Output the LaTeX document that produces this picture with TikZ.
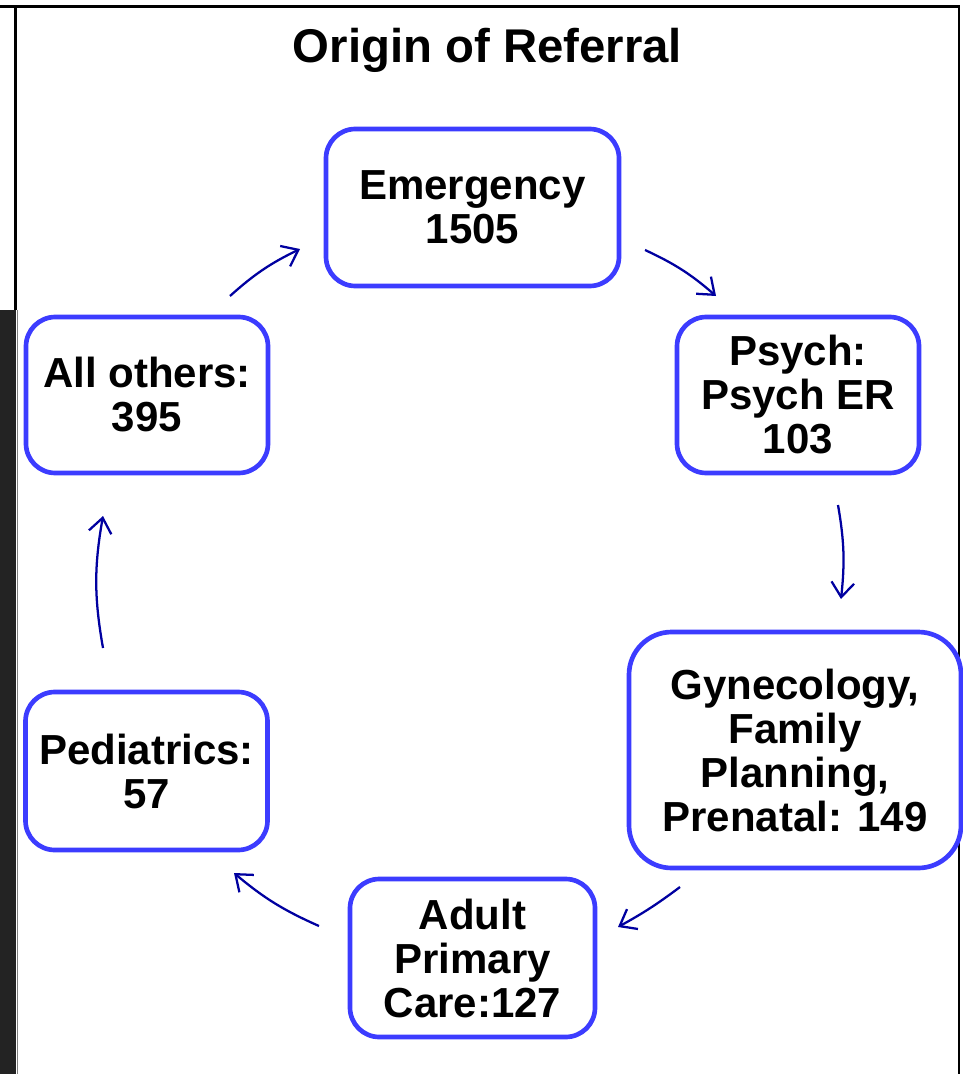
\documentclass[tikz,border=0pt]{standalone}
\usepackage{fontspec}
\setmainfont{Liberation Sans}
\usetikzlibrary{arrows.meta}
\definecolor{boxblue}{RGB}{60,60,255}
\definecolor{arrblue}{RGB}{0,0,160}
\definecolor{stripgray}{RGB}{35,35,35}
\begin{document}
\begin{tikzpicture}[x=0.75pt,y=-0.75pt,
  box/.style={draw=boxblue, line width=3.5pt, fill=white, rounded corners=22pt,
    align=center, inner sep=0pt, font=\bfseries\fontsize{31.5}{33}\selectfont},
  arr/.style={draw=arrblue, line width=1.7pt, -{Straight Barb[length=11pt,width=17pt]}},
  framel/.style={draw=black, line width=2pt}]
\useasboundingbox (0,0) rectangle (963,1074);
% frame
\fill[stripgray] (0,310) rectangle (16,1074);
\draw[gray, line width=0.75pt] (17.5,310) -- (17.5,1074);
\draw[framel] (0,6.5) -- (959,6.5) -- (959,1074);
\draw[framel] (15.5,6.5) -- (15.5,310);
% title
\node[font=\bfseries\fontsize{35.5}{40}\selectfont, anchor=base, inner sep=0pt] (title) at (487.5,63) {Origin of Referral};
% boxes
\node[box, minimum width=219.75pt, minimum height=117.75pt] (em) at (472.5,207.5) {Emergency\\1505};
\node[box, minimum width=181.5pt, minimum height=117pt] (ps) at (798,395) {Psych:\\Psych ER\\103};
\node[box, minimum width=249pt, minimum height=177pt, rounded corners=32pt] (gy) at (795,750) {Gynecology,\\Family\\Planning,\\Prenatal: 149};
\node[box, minimum width=183.75pt, minimum height=118.5pt] (ad) at (472.5,958) {Adult\\Primary\\Care:127};
\node[box, minimum width=181.5pt, minimum height=118.5pt] (pe) at (146.5,771) {Pediatrics:\\57};
\node[box, minimum width=181.5pt, minimum height=117pt] (al) at (147,395) {All others:\\395};
% arrow ends
\coordinate (a1s) at (645,250); \coordinate (a1e) at (716,296);
\coordinate (a2s) at (838,505); \coordinate (a2e) at (841,599);
\coordinate (a3s) at (680,887); \coordinate (a3e) at (618,927);
\coordinate (a4s) at (319,926); \coordinate (a4e) at (234,873);
\coordinate (a5s) at (103,648); \coordinate (a5e) at (103,516);
\coordinate (a6s) at (230,296); \coordinate (a6e) at (300,249);
\draw[arr] (a1s) to[bend left=8] (a1e);
\draw[arr] (a2s) to[bend left=8] (a2e);
\draw[arr] (a3s) to[bend left=4] (a3e);
\draw[arr] (a4s) to[bend left=8] (a4e);
\draw[arr] (a5s) to[bend left=10] (a5e);
\draw[arr] (a6s) to[bend left=8] (a6e);
\end{tikzpicture}
\end{document}
